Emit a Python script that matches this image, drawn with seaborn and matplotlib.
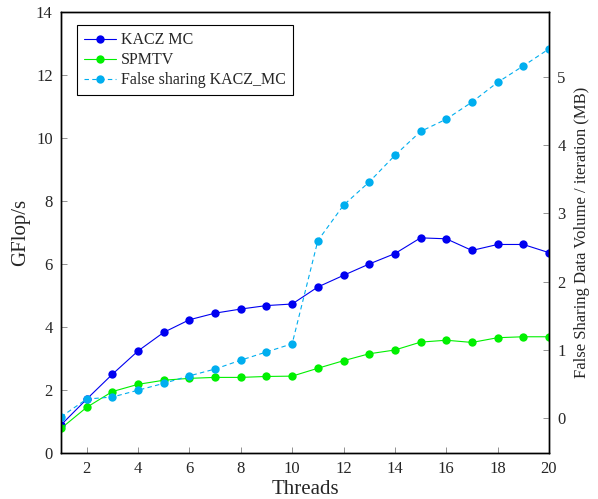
import matplotlib
matplotlib.use("Agg")
import matplotlib.pyplot as plt
import seaborn as sns
import pandas as pd

threads = list(range(1, 21))
kacz_mc = [0.89, 1.71, 2.50, 3.24, 3.83, 4.23, 4.44, 4.57, 4.68, 4.73,
           5.27, 5.64, 6.00, 6.33, 6.83, 6.80, 6.43, 6.62, 6.62, 6.36]
spmtv = [0.78, 1.45, 1.95, 2.18, 2.31, 2.37, 2.40, 2.40, 2.43, 2.44,
         2.69, 2.93, 3.15, 3.27, 3.52, 3.58, 3.51, 3.66, 3.69, 3.69]
false_sharing = [0.02, 0.28, 0.31, 0.41, 0.51, 0.62, 0.72, 0.85, 0.97, 1.09,
                 2.60, 3.12, 3.46, 3.85, 4.20, 4.38, 4.63, 4.92, 5.16, 5.41]

sns.set_style("ticks")
plt.rcParams["font.family"] = ["Liberation Serif", "DejaVu Serif"]

df = pd.DataFrame({"Threads": threads, "KACZ MC": kacz_mc, "SPMTV": spmtv,
                   "FS": false_sharing})

fig = plt.figure(figsize=(5.98, 4.99), dpi=100)
ax = fig.add_axes([61/598, 1 - 453/499, (549-61)/598, (453-12)/499])
ax2 = ax.twinx()

blue = "#0000F0"
green = "#00F000"
cyan = "#00AEEF"

sns.lineplot(data=df, x="Threads", y="KACZ MC", ax=ax, color=blue, marker="o",
             markersize=6, markeredgewidth=0, linewidth=0.8, label="KACZ MC", legend=False)
sns.lineplot(data=df, x="Threads", y="SPMTV", ax=ax, color=green, marker="o",
             markersize=6, markeredgewidth=0, linewidth=0.8, label="SPMTV", legend=False)
sns.lineplot(data=df, x="Threads", y="FS", ax=ax2, color=cyan, marker="o",
             markersize=6, markeredgewidth=0, linewidth=0.8, linestyle=(0, (4, 3)),
             label="False sharing KACZ_MC", legend=False)

ax.set_xlim(1, 20)
ax.set_ylim(0, 14)
ax2.set_ylim(-0.51, 5.95)
ax.set_xticks(range(2, 21, 2))
ax.set_yticks(range(0, 15, 2))
ax2.set_yticks(range(0, 6))

for a in (ax, ax2):
    a.tick_params(direction="in", length=4, width=0.6, color="#808080",
                  labelsize=12, pad=6)
    for s in a.spines.values():
        s.set_linewidth(1.0)
        s.set_color("black")

ax.set_xlabel("Threads", fontsize=15, labelpad=2)
ax.set_ylabel("GFlop/s", fontsize=15, labelpad=4)
ax2.set_ylabel("False Sharing Data Volume / iteration (MB)", fontsize=12, labelpad=6)

h1, l1 = ax.get_legend_handles_labels()
h2, l2 = ax2.get_legend_handles_labels()
leg = ax.legend(h1 + h2, l1 + l2, loc="upper left", bbox_to_anchor=(0.033, 0.9705),
                borderaxespad=0, fontsize=11.5, frameon=True, fancybox=False,
                edgecolor="black", framealpha=1, borderpad=0.45, labelspacing=0.25,
                handlelength=2.0, handletextpad=0.3)
leg.get_frame().set_linewidth(0.8)
leg.remove()
ax2.add_artist(leg)

fig.savefig("out.png", dpi=100)
